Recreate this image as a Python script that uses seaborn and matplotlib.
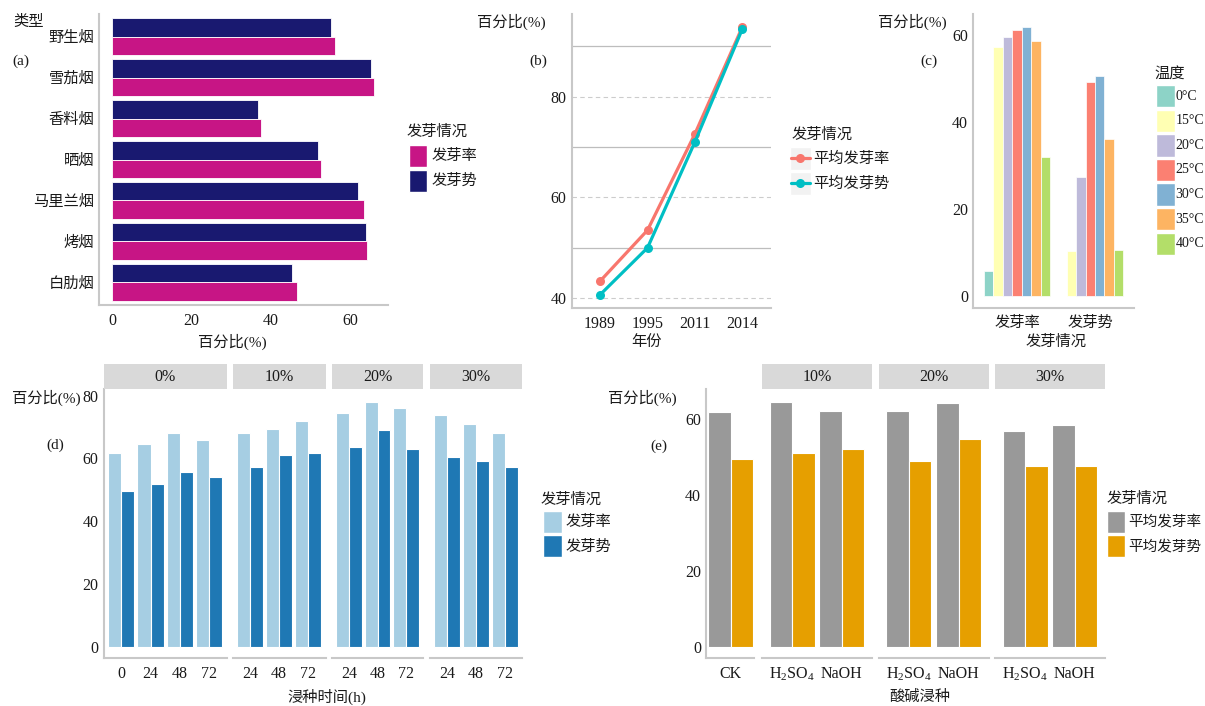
import matplotlib
matplotlib.use("Agg")
import matplotlib.pyplot as plt
from matplotlib.patches import Rectangle
from matplotlib.lines import Line2D
import pandas as pd
import seaborn as sns

# Data
types = ["野生烟", "雪茄烟", "香料烟", "晒烟", "马里兰烟", "烤烟", "白肋烟"]
a_rate = [56.1, 66.0, 37.5, 52.6, 63.3, 64.1, 46.5]
a_vigor = [55.2, 65.2, 36.8, 51.8, 61.8, 63.9, 45.2]

years = ["1989", "1995", "2011", "2014"]
b_rate = [43.4, 53.5, 72.6, 93.8]
b_vigor = [40.7, 50.0, 71.0, 93.4]

temps = ["0°C", "15°C", "20°C", "25°C", "30°C", "35°C", "40°C"]
c_rate = [5.7, 57.2, 59.5, 61.3, 62.0, 58.6, 32.0]
c_vigor = [0.0, 10.4, 27.3, 49.3, 50.6, 36.2, 10.6]

d_conc = ["0%", "10%", "20%", "30%"]
d_hours = [["0", "24", "48", "72"], ["24", "48", "72"], ["24", "48", "72"], ["24", "48", "72"]]
d_rate = [[61.6, 64.5, 68.0, 66.0], [68.0, 69.2, 72.0], [74.6, 77.8, 76.2], [73.7, 71.1, 68.2]]
d_vigor = [[49.7, 51.9, 55.5, 54.1], [57.4, 61.0, 61.6], [63.5, 69.1, 63.0], [60.5, 59.0, 57.4]]

e_conc = ["", "10%", "20%", "30%"]
e_treat = [["CK"], ["H2SO4", "NaOH"], ["H2SO4", "NaOH"], ["H2SO4", "NaOH"]]
e_rate = [[61.9], [64.5, 62.3], [62.3, 64.4], [56.9, 58.6]]
e_vigor = [[49.4], [51.1, 52.2], [48.9, 54.7], [47.6, 47.7]]

# Build tables
df_a = pd.DataFrame({"类型": types * 2,
                     "发芽情况": ["发芽率"] * len(types) + ["发芽势"] * len(types),
                     "百分比": a_rate + a_vigor})
df_b = pd.DataFrame({"年份": years * 2,
                     "发芽情况": ["平均发芽率"] * len(years) + ["平均发芽势"] * len(years),
                     "百分比": b_rate + b_vigor})
df_c = pd.DataFrame({"发芽情况": ["发芽率"] * len(temps) + ["发芽势"] * len(temps),
                     "温度": temps * 2,
                     "百分比": c_rate + c_vigor})
rows = []
for conc, hrs, r, v in zip(d_conc, d_hours, d_rate, d_vigor):
    for h, rv, vv in zip(hrs, r, v):
        rows.append((conc, h, "发芽率", rv))
        rows.append((conc, h, "发芽势", vv))
df_d = pd.DataFrame(rows, columns=["浓度", "浸种时间", "发芽情况", "百分比"])
rows = []
for conc, trs, r, v in zip(e_conc, e_treat, e_rate, e_vigor):
    for t, rv, vv in zip(trs, r, v):
        rows.append((conc, t, "平均发芽率", rv))
        rows.append((conc, t, "平均发芽势", vv))
df_e = pd.DataFrame(rows, columns=["浓度", "处理", "发芽情况", "百分比"])

sns.set_theme(style="white")
plt.rcParams["font.family"] = ["Liberation Serif", "Noto Sans CJK SC"]
plt.rcParams["mathtext.fontset"] = "stix"
plt.rcParams["axes.unicode_minus"] = False

W, H = 1205, 706
fig = plt.figure(figsize=(W / 100, H / 100), dpi=100)
fig.patch.set_facecolor("white")

TXT = "#1a1a1a"
AXC = "#c8c8c8"
FS = 11       # text with Chinese characters
NFS = 11.5    # numeric tick labels


def add_ax(l, t, r, b):
    return fig.add_axes([l / W, 1 - b / H, (r - l) / W, (b - t) / H])


def ftext(x, y, s, ha="left", size=FS):
    fig.text(x / W, 1 - y / H, s, ha=ha, va="center", fontsize=size, color=TXT)


def style(ax, left=True):
    ax.set_facecolor("white")
    ax.spines["top"].set_visible(False)
    ax.spines["right"].set_visible(False)
    ax.spines["bottom"].set_color(AXC)
    ax.spines["bottom"].set_linewidth(1.5)
    ax.spines["left"].set_color(AXC)
    ax.spines["left"].set_linewidth(1.5)
    ax.spines["left"].set_visible(left)
    ax.tick_params(axis="both", colors="#333333", labelcolor=TXT, length=2.6,
                   width=0.8, labelsize=NFS)
    ax.tick_params(axis="y", pad=1)
    ax.tick_params(axis="x", pad=3)
    if not left:
        ax.tick_params(axis="y", left=False, labelleft=False)
    ax.set_xlabel("")
    ax.set_ylabel("")


def key_box(x, t, w, h, color):
    fig.add_artist(Rectangle((x / W, 1 - (t + h) / H), w / W, h / H,
                             transform=fig.transFigure, facecolor=color,
                             edgecolor="white", linewidth=1))


def box_legend(title, tx, ty, labels, colors, kx, ktop, kw=18, kh=22, step=24.3,
               lx=None, size=FS):
    ftext(tx, ty, title)
    for i, (lab, col) in enumerate(zip(labels, colors)):
        t = ktop + i * step
        key_box(kx, t, kw, kh, col)
        ftext(lx if lx else kx + kw + 4, t + kh / 2, lab, size=size)


def strip(l, r, label):
    sa = add_ax(l, 364, r, 389.3)
    sa.set_facecolor("#d9d9d9")
    for s in sa.spines.values():
        s.set_visible(False)
    sa.set_xticks([])
    sa.set_yticks([])
    sa.text(0.5, 0.5, label, ha="center", va="center", fontsize=NFS,
            color=TXT, transform=sa.transAxes)


# ---------- (a) ----------
pal_a = {"发芽率": "#c71585", "发芽势": "#191970"}
ax = add_ax(99.3, 14, 387.7, 305)
sns.barplot(data=df_a, y="类型", x="百分比", hue="发芽情况", order=types,
            hue_order=["发芽势", "发芽率"], palette=pal_a, width=0.9, saturation=1,
            orient="h", errorbar=None, edgecolor="white", linewidth=0.6,
            legend=False, ax=ax)
style(ax)
ax.tick_params(axis="y", labelsize=FS)
ax.set_xlim(-3.3, 69.4)
ax.set_ylim(6.55, -0.55)
ax.set_xticks([0, 20, 40, 60])
ftext(13, 21.7, "类型")
ftext(12.7, 61, "(a)")
ftext(232, 342, "百分比(%)", ha="center")
box_legend("发芽情况", 407, 132, ["发芽率", "发芽势"], [pal_a["发芽率"], pal_a["发芽势"]],
           409.3, 145, step=24.5)

# ---------- (b) ----------
pal_b = {"平均发芽率": "#f8766d", "平均发芽势": "#00bfc4"}
ax = add_ax(571.7, 14, 770.7, 308.3)
sns.pointplot(data=df_b, x="年份", y="百分比", hue="发芽情况", order=years,
              hue_order=["平均发芽率", "平均发芽势"], palette=pal_b, errorbar=None,
              markers="o", linewidth=2.3, markersize=6.5, markeredgewidth=0,
              legend=False, ax=ax)
style(ax)
ax.set_xlim(-0.6, 3.6)
ax.set_ylim(38.0, 96.4)
ax.set_yticks([40, 60, 80])
ax.set_yticks([50, 70, 90], minor=True)
ax.tick_params(axis="y", which="minor", length=0)
ax.grid(True, axis="y", which="major", color="#cccccc", linestyle=(0, (4, 3)), linewidth=0.8)
ax.grid(True, axis="y", which="minor", color="#bdbdbd", linestyle="-", linewidth=0.9)
ax.set_axisbelow(True)
ftext(477.3, 21.7, "百分比(%)")
ftext(529, 61, "(b)")
ftext(646, 342, "年份", ha="center")
ftext(791.7, 135, "发芽情况")
for i, (lab, col) in enumerate(pal_b.items()):
    t = 146.7 + i * 25
    key_box(790, t, 20.7, 23.3, "#f2f2f2")
    yc = 1 - (t + 11.65) / H
    fig.add_artist(Line2D([790.5 / W, 810.2 / W], [yc, yc], transform=fig.transFigure,
                          color=col, linewidth=2.3))
    fig.add_artist(Line2D([800.3 / W], [yc], transform=fig.transFigure, color=col,
                          marker="o", markersize=6.5, markeredgewidth=0))
    ftext(813.3, t + 12, lab)

# ---------- (c) ----------
set3 = sns.color_palette("Set3", len(temps))
pal_c = dict(zip(temps, set3))
ax = add_ax(973, 14, 1134.3, 308.3)
sns.barplot(data=df_c, x="发芽情况", y="百分比", hue="温度", order=["发芽率", "发芽势"],
            hue_order=temps, palette=pal_c, width=0.9, saturation=1, errorbar=None,
            edgecolor="white", linewidth=0.5, legend=False, ax=ax)
style(ax)
ax.tick_params(axis="x", labelsize=FS)
ax.set_xlim(-0.6, 1.6)
ax.set_ylim(-2.9, 64.9)
ax.set_yticks([0, 20, 40, 60])
ftext(878.3, 21.7, "百分比(%)")
ftext(920.7, 61, "(c)")
ftext(1056, 342, "发芽情况", ha="center")
box_legend("温度", 1154, 73.3, temps, set3, 1156, 85, kw=19, kh=22.3, step=24.6,
           lx=1175.5, size=10)

# ---------- (d) ----------
paired = sns.color_palette("Paired")
pal_d = {"发芽率": paired[0], "发芽势": paired[1]}
d_edges = [(103.7, 226.7), (232.7, 325.7), (331.7, 423.3), (430, 522)]
for i, (conc, hrs) in enumerate(zip(d_conc, d_hours)):
    l, r = d_edges[i]
    ax = add_ax(l, 389.3, r, 658.3)
    sns.barplot(data=df_d[df_d["浓度"] == conc], x="浸种时间", y="百分比", hue="发芽情况",
                order=hrs, hue_order=["发芽率", "发芽势"], palette=pal_d, width=0.9,
                saturation=1, errorbar=None, edgecolor="white", linewidth=0.8,
                legend=False, ax=ax)
    style(ax, left=(i == 0))
    ax.set_xlim(-0.6, len(hrs) - 0.4)
    ax.set_ylim(-3.7, 82.0)
    ax.set_yticks([0, 20, 40, 60, 80])
    strip(l, r, conc)
ftext(11.7, 397.7, "百分比(%)")
ftext(46.7, 445, "(d)")
ftext(327, 697, "浸种时间(h)", ha="center")
box_legend("发芽情况", 540.7, 500, ["发芽率", "发芽势"], [pal_d["发芽率"], pal_d["发芽势"]],
           543.3, 511, kw=18.4, kh=22, step=24.3)

# ---------- (e) ----------
pal_e = {"平均发芽率": "#999999", "平均发芽势": "#e69f00"}
e_edges = [(706, 754), (762.3, 871.7), (878.7, 989), (995.3, 1104.7)]
for i, (conc, trs) in enumerate(zip(e_conc, e_treat)):
    l, r = e_edges[i]
    ax = add_ax(l, 389.3, r, 658.3)
    sns.barplot(data=df_e[df_e["浓度"] == conc], x="处理", y="百分比", hue="发芽情况",
                order=trs, hue_order=["平均发芽率", "平均发芽势"], palette=pal_e, width=0.9,
                saturation=1, errorbar=None, edgecolor="white", linewidth=0.8,
                legend=False, ax=ax)
    style(ax, left=(i == 0))
    if len(trs) == 1:
        ax.set_xlim(-0.49, 0.46)
    else:
        ax.set_xlim(-0.6, len(trs) - 0.4)
    ax.set_ylim(-3.07, 67.9)
    ax.set_yticks([0, 20, 40, 60])
    ax.set_xticks(range(len(trs)))
    ax.set_xticklabels([r"$\mathregular{H_2SO_4}$" if t == "H2SO4" else t for t in trs])
    if conc:
        strip(l, r, conc)
ftext(608.3, 397.7, "百分比(%)")
ftext(650, 446.7, "(e)")
ftext(919.5, 697, "酸碱浸种", ha="center")
box_legend("发芽情况", 1106.7, 498.3, ["平均发芽率", "平均发芽势"],
           [pal_e["平均发芽率"], pal_e["平均发芽势"]], 1106.7, 511, kw=18, kh=22, step=24.3,
           size=10.5)

fig.savefig("out.png", dpi=100)
